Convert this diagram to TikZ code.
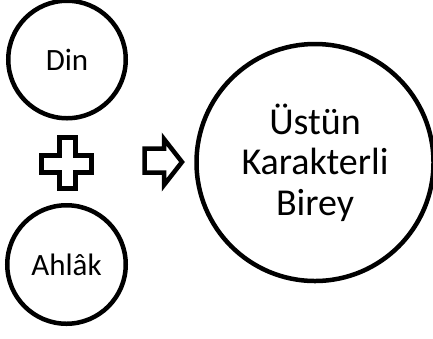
\documentclass[tikz,border=0pt]{standalone}
\usepackage{fontspec}
\setmainfont{Carlito}
\begin{document}
\begin{tikzpicture}[x=1bp, y=-1bp,
        kavram/.style={circle, draw, line width=4.5bp, inner sep=0pt, align=center},
        isaret/.style={draw, line width=4.5bp, line join=miter}]
        \useasboundingbox (0,0) rectangle (433,338);

        \node[kavram, minimum size=117.5bp, font=\fontsize{31bp}{36bp}\selectfont] (din) at (67, 59.5) {Din};
        \node[kavram, minimum size=118.5bp, font=\fontsize{31bp}{36bp}\selectfont] (ahlak) at (66.5, 264.5) {Ahlâk};
        \node[kavram, minimum size=237bp, font=\fontsize{38bp}{40.5bp}\selectfont] (birey) at (315, 162.5) {Üstün\\Karakterli\\Birey};

        % arti
        \draw[isaret] (59.5,137.5) -- (75.5,137.5) -- (75.5,155.5) -- (91.5,155.5) -- (91.5,172.5)
            -- (75.5,172.5) -- (75.5,188.5) -- (59.5,188.5) -- (59.5,172.5) -- (41.5,172.5)
            -- (41.5,155.5) -- (59.5,155.5) -- cycle;
        % ok
        \draw[isaret] (144.5,148.5) -- (164,148.5) -- (164,139) -- (182,162) -- (164,185)
            -- (164,172.5) -- (144.5,172.5) -- cycle;
    \end{tikzpicture}
\end{document}
